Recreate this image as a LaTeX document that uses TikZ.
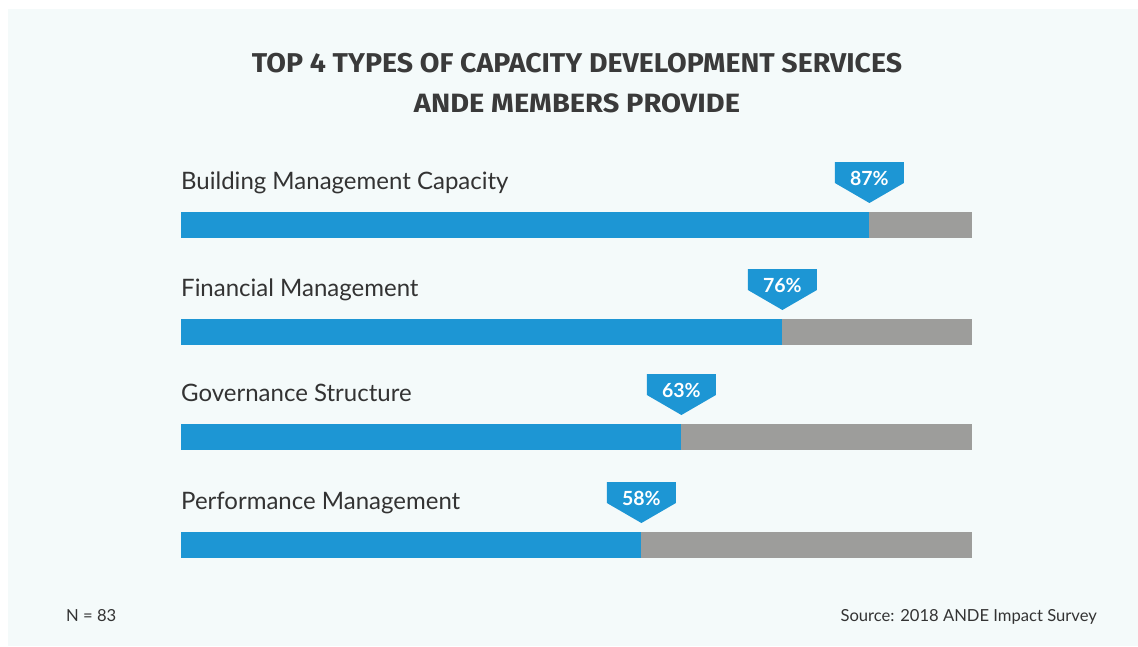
\documentclass[tikz,border=0pt]{standalone}
\usepackage{fontspec}
\usepackage{graphicx}
\usetikzlibrary{calc}
\setmainfont{Lato}
\newfontfamily\titlefont{Fira Sans}
\definecolor{barblue}{HTML}{1D96D4}
\definecolor{bargray}{HTML}{9D9D9B}
\definecolor{panelbg}{HTML}{F4FAFA}
\definecolor{ink}{HTML}{333333}
\definecolor{titleink}{HTML}{3A3A3A}
\tikzset{
  track/.style={fill=bargray, draw=none, inner sep=0pt, minimum height=26pt, anchor=north west, minimum width=791pt},
  valuebar/.style={fill=barblue, draw=none, inner sep=0pt, minimum height=26pt, anchor=north west},
  catlabel/.style={anchor=base west, inner sep=0pt, text=ink, font=\fontsize{24}{28}\selectfont},
  pctlabel/.style={anchor=base, inner sep=0pt, text=white, font=\fontsize{19.5}{22}\selectfont\bfseries},
  marker/.style={fill=barblue, draw=none},
  titletext/.style={anchor=base, inner sep=0pt, text=titleink},
  foot/.style={inner sep=0pt, text=ink, font=\fontsize{16.6}{20}\selectfont},
}
\begin{document}
\begin{tikzpicture}[x=1pt,y=-1pt]
\useasboundingbox (0,0) rectangle (1138,646);
\fill[white] (0,0) rectangle (1138,646);
\fill[panelbg] (8,9) rectangle (1138,646);

% title
\node[titletext] (title1) at (577,72.3) {\resizebox{650pt}{19.3pt}{\titlefont\bfseries TOP 4 TYPES OF CAPACITY DEVELOPMENT SERVICES}};
\node[titletext] (title2) at (577,112.5) {\resizebox{326pt}{18.8pt}{\titlefont\bfseries ANDE MEMBERS PROVIDE}};

% bars
\foreach \i/\top/\w/\pct/\lab in {1/212/688/87/Building Management Capacity,
                                  2/319/601/76/Financial Management,
                                  3/424/500/63/Governance Structure,
                                  4/532/460/58/Performance Management}{
  \node[track] (t\i) at (181,\top) {};
  \node[valuebar, minimum width=\w pt] (b\i) at (181,\top) {};
  \node[catlabel] (l\i) at (181,\top-23) {\lab};
  \fill[marker] (b\i.north east) ++(0,-9) coordinate (tip\i)
     -- ++(34.5,-20) -- ++(0,-21) -- ++(-69,0) -- ++(0,21) -- cycle;
  \node[pctlabel] (p\i) at ($(tip\i)+(0,-18)$) {\pct\%};
}

% footer
\node[foot, anchor=base west] (n) at (66,621) {N = 83};
\node[foot, anchor=base east] (src) at (1097,621) {Source: 2018 ANDE Impact Survey};
\end{tikzpicture}
\end{document}
